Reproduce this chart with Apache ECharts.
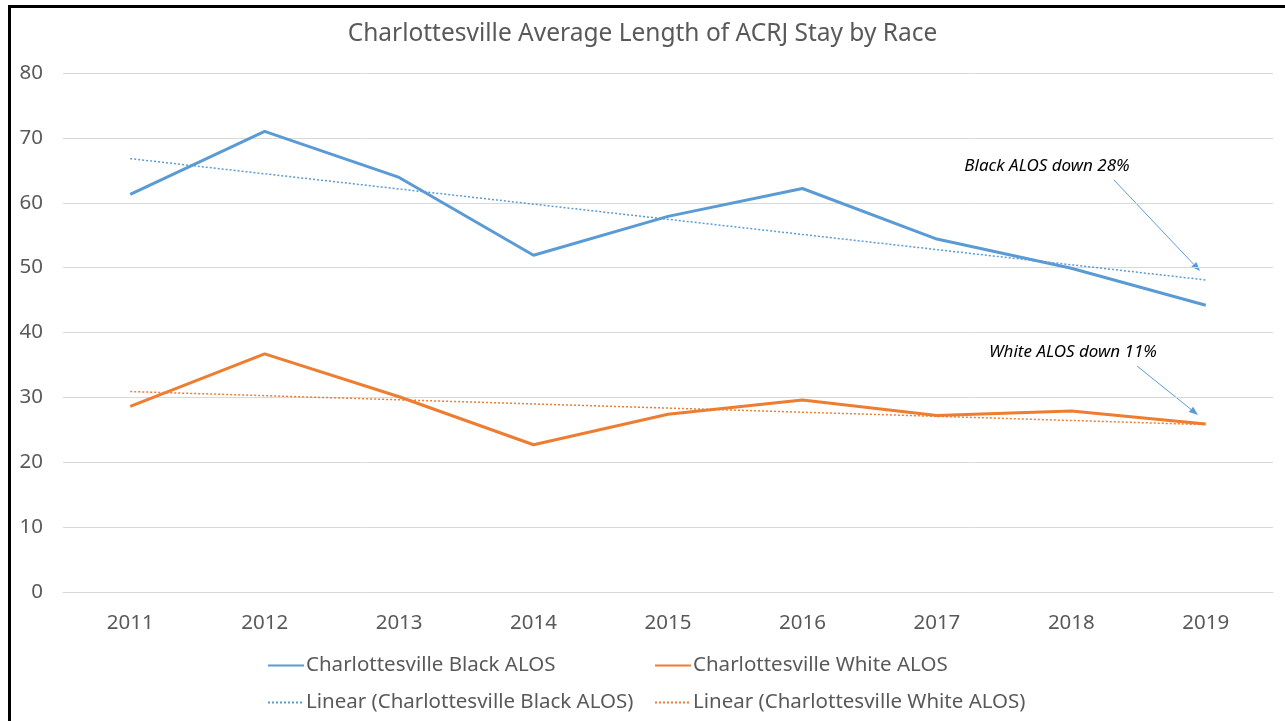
<!DOCTYPE html>
<html>
<head>
<meta charset="utf-8">
<script src="https://cdn.jsdelivr.net/npm/echarts@6/dist/echarts.min.js"></script>
<style>html,body{margin:0;padding:0;background:#fff}#c{width:1285px;height:721px}</style>
</head>
<body>
<div id="c"></div>
<script>
const years = ['2011','2012','2013','2014','2015','2016','2017','2018','2019'];
const blackALOS = [61.3, 71.0, 63.9, 51.9, 57.9, 62.2, 54.4, 49.9, 44.2];
const whiteALOS = [28.6, 36.7, 30.1, 22.7, 27.4, 29.6, 27.2, 27.9, 25.9];
// trend line endpoints: [category index, value]
const blackTrend = [[0, 66.8], [8, 48.1]];
const whiteTrend = [[0, 30.9], [8, 25.8]];
const yTicks = [0, 10, 20, 30, 40, 50, 60, 70, 80];

const BLUE = '#5B9BD5', ORANGE = '#ED7D31', TXT = '#595959';
const FONT = 'Noto Sans';

function arrow(x1, y1, x2, y2) {
  const ang = Math.atan2(y2 - y1, x2 - x1), L = 9, W = 3.5;
  const bx = x2 - L * Math.cos(ang), by = y2 - L * Math.sin(ang);
  const px = -Math.sin(ang) * W, py = Math.cos(ang) * W;
  return [
    {type: 'line', silent: true, shape: {x1: x1, y1: y1, x2: bx, y2: by}, style: {stroke: BLUE, lineWidth: 1}},
    {type: 'polygon', silent: true, shape: {points: [[x2, y2], [bx + px, by + py], [bx - px, by - py]]}, style: {fill: BLUE}}
  ];
}

const chart = echarts.init(document.getElementById('c'), null, {renderer: 'canvas'});
function legendAt(name, left, top) {
  return {
    data: [name], left: left, top: top, itemWidth: 36, itemHeight: 14, itemGap: 0,
    itemStyle: {opacity: 0},
    textStyle: {color: TXT, fontSize: 20.5, fontFamily: FONT, padding: [0, 0, 0, -3]},
    selectedMode: false
  };
}
chart.setOption({
  animation: false,
  title: {
    text: 'Charlottesville Average Length of ACRJ Stay by Race',
    left: 'center', top: 17,
    textStyle: {color: TXT, fontSize: 24.5, fontWeight: 'normal', fontFamily: FONT}
  },
  legend: [
    legendAt('Charlottesville Black ALOS', 262, 650),
    legendAt('Charlottesville White ALOS', 649, 650),
    legendAt('Linear (Charlottesville Black ALOS)', 262, 687),
    legendAt('Linear (Charlottesville White ALOS)', 649, 687)
  ],
  grid: {left: 63, right: 12, top: 73, bottom: 129, containLabel: false},
  xAxis: {
    type: 'category', data: years, boundaryGap: true,
    axisLine: {lineStyle: {color: '#D9D9D9', width: 1}},
    axisTick: {show: false},
    axisLabel: {color: TXT, fontSize: 20.5, fontFamily: FONT, margin: 21}
  },
  yAxis: {
    type: 'value', min: yTicks[0], max: yTicks[yTicks.length - 1], interval: 10,
    axisLine: {show: false}, axisTick: {show: false},
    splitLine: {lineStyle: {color: '#D9D9D9', width: 1}},
    axisLabel: {color: TXT, fontSize: 20.5, fontFamily: FONT, margin: 20}
  },
  series: [
    {
      name: 'Charlottesville Black ALOS', type: 'line', data: blackALOS,
      symbol: 'none', lineStyle: {color: BLUE, width: 3}, itemStyle: {color: BLUE}, z: 3
    },
    {
      name: 'Charlottesville White ALOS', type: 'line', data: whiteALOS,
      symbol: 'none', lineStyle: {color: ORANGE, width: 3}, itemStyle: {color: ORANGE}, z: 3
    },
    {
      name: 'Linear (Charlottesville Black ALOS)', type: 'line', data: blackTrend,
      symbol: 'none', lineStyle: {color: BLUE, width: 1.5, type: [2, 2]}, itemStyle: {color: BLUE}, z: 2
    },
    {
      name: 'Linear (Charlottesville White ALOS)', type: 'line', data: whiteTrend,
      symbol: 'none', lineStyle: {color: ORANGE, width: 1.5, type: [2, 2]}, itemStyle: {color: ORANGE}, z: 2
    }
  ],
  graphic: [
    {type: 'rect', shape: {x: 8, y: 5, width: 1277, height: 3}, style: {fill: '#000'}, silent: true},
    {type: 'rect', shape: {x: 8, y: 5, width: 3, height: 716}, style: {fill: '#000'}, silent: true},
    {type: 'text', x: 1047, y: 166, style: {text: 'Black ALOS down 28%', fill: '#000', font: 'italic 17px "Noto Sans"', align: 'center', verticalAlign: 'middle'}},
    {type: 'text', x: 1073, y: 352, style: {text: 'White ALOS down 11%', fill: '#000', font: 'italic 17px "Noto Sans"', align: 'center', verticalAlign: 'middle'}}
  ].concat(arrow(1114, 180, 1200, 271), arrow(1137, 366, 1198, 415))
});
</script>
</body>
</html>
